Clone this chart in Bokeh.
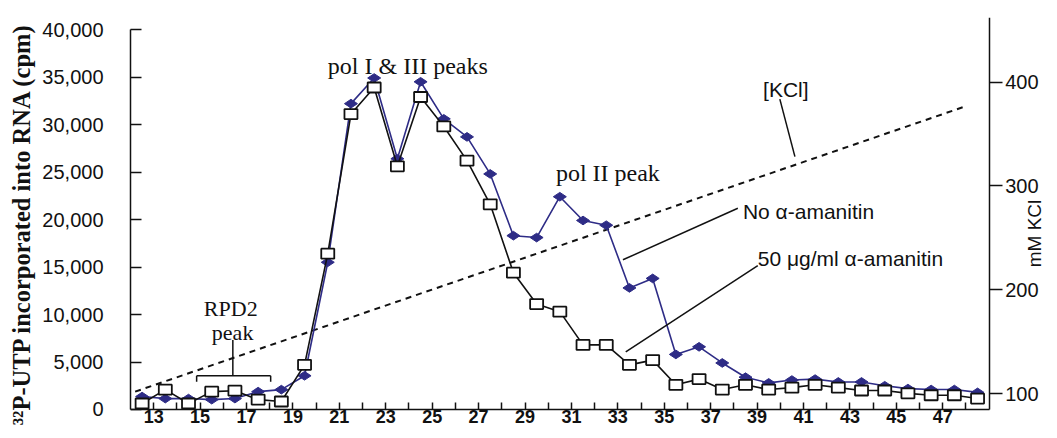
from math import pi
from bokeh.plotting import figure
from bokeh.models import (Range1d, LinearAxis, FixedTicker, NumeralTickFormatter,
                          Label, ColumnDataSource)
from bokeh.embed import file_html
from bokeh.resources import INLINE

# ---- data -------------------------------------------------------------
# fractions (plotted between the numbered tick marks)
fraction_pos = [f + 0.5 for f in range(12, 49)]

# No alpha-amanitin (filled diamonds), cpm
no_amanitin = [1360, 1150, 1150, 1040, 1150, 1880, 2090, 3550, 15500, 32200,
               34900, 26400, 34500, 30600, 28700, 24800, 18300, 18100, 22400, 19900,
               19400, 12800, 13800, 5800, 6600, 4900, 3400, 2800, 3100, 3200,
               2900, 2900, 2500, 2200, 2100, 2100, 1800]

# 50 ug/ml alpha-amanitin (open squares), cpm
with_amanitin = [630, 2090, 630, 1880, 1980, 1040, 840, 4700, 16400, 31100,
                 33900, 25600, 32900, 29800, 26200, 21600, 14400, 11100, 10300, 6800,
                 6800, 4700, 5200, 2600, 3200, 2100, 2600, 2100, 2300, 2600,
                 2300, 2000, 2000, 1700, 1500, 1500, 1150]

# KCl gradient (mM)
kcl_fraction = [12.2, 47.9]
kcl_mm = [102, 376]

x_tick_labels = [13, 15, 17, 19, 21, 23, 25, 27, 29, 31, 33, 35, 37, 39, 41, 43, 45, 47]
x_minor = [14, 16, 18, 20, 22, 24, 26, 28, 30, 32, 34, 36, 38, 40, 42, 44, 46, 48]
cpm_ticks = [0, 5000, 10000, 15000, 20000, 25000, 30000, 35000, 40000]
kcl_ticks = [100, 200, 300, 400]

NAVY = "#2e2c86"
INK = "#111111"
SANS = "Liberation Sans"
SERIF = "Liberation Serif"

p = figure(width=1049, height=430, x_range=Range1d(12, 51.60), y_range=Range1d(-2211, 41269),
           x_axis_type=None, y_axis_type=None, output_backend="svg",
           toolbar_location=None, min_border_left=130, min_border_right=0,
           min_border_top=17, min_border_bottom=0)
p.outline_line_color = None
p.background_fill_color = "white"
p.border_fill_color = "white"
p.extra_y_ranges = {"kcl": Range1d(64.6, 462.1)}

# bottom axis (sits at cpm = 0)
xa = LinearAxis(ticker=FixedTicker(ticks=x_tick_labels, minor_ticks=x_minor),
                fixed_location=0, bounds=(12, 49))
xa.major_tick_in = 7
xa.major_tick_out = 0
xa.minor_tick_in = 7
xa.minor_tick_out = 0
xa.major_label_standoff = 1
xa.major_label_text_font = SANS
xa.major_label_text_font_style = "bold"
xa.major_label_text_font_size = "18px"
xa.major_label_text_color = INK
p.add_layout(xa, "below")

# left axis, cpm
ya = LinearAxis(ticker=FixedTicker(ticks=cpm_ticks), formatter=NumeralTickFormatter(format="0,0"),
                bounds=(0, 40000))
ya.major_tick_in = 11
ya.major_tick_out = 0
ya.minor_tick_in = 0
ya.minor_tick_out = 0
ya.major_label_standoff = 27
ya.major_label_text_font = SANS
ya.major_label_text_font_size = "20px"
ya.major_label_text_color = INK
ya.axis_label = "\u00b3\u00b2P-UTP incorporated into RNA (cpm)"
ya.axis_label_text_font = SERIF
ya.axis_label_text_font_style = "bold"
ya.axis_label_text_font_size = "24.5px"
ya.axis_label_text_color = INK
ya.axis_label_standoff = 4
p.add_layout(ya, "left")

# right axis, mM KCl (sits at the right end of the fractions)
ra = LinearAxis(y_range_name="kcl", ticker=FixedTicker(ticks=kcl_ticks),
                fixed_location=49, bounds=(84.8, 462.1))
ra.major_tick_in = 0
ra.major_tick_out = 13
ra.minor_tick_in = 0
ra.minor_tick_out = 0
ra.major_label_standoff = 3
ra.major_label_text_font = SANS
ra.major_label_text_font_size = "20px"
ra.major_label_text_color = INK
p.add_layout(ra, "right")

for ax in (xa, ya, ra):
    ax.axis_line_width = 1.5
    ax.axis_line_color = INK
    ax.major_tick_line_width = 1.5
    ax.major_tick_line_color = INK
    ax.minor_tick_line_width = 1.5
    ax.minor_tick_line_color = INK

# KCl gradient
p.line(kcl_fraction, kcl_mm, y_range_name="kcl", line_color=INK,
       line_width=2, line_dash="6 5")

src = ColumnDataSource(dict(x=fraction_pos, no=no_amanitin, w=with_amanitin))

p.line("x", "no", source=src, line_color=NAVY, line_width=1.6)
p.scatter("x", "no", source=src, marker="diamond", size=13, angle=pi / 2,
          fill_color=NAVY, line_color=NAVY, line_width=1)

p.line("x", "w", source=src, line_color=INK, line_width=1.6)
p.rect("x", "w", source=src, width=13, height=10, width_units="screen",
       height_units="screen", fill_color="white", line_color=INK, line_width=1.8)

# annotation pointer lines / bracket
p.segment(x0=[39.98, 33.22, 33.34, 16.41, 14.85, 14.85, 18.04],
          y0=[32680, 15760, 6055, 7310, 3550, 3550, 3550],
          x1=[40.63, 38.17, 39.03, 16.41, 18.04, 14.85, 18.04],
          y1=[26620, 21190, 15140, 3550, 3550, 2920, 2920],
          line_color=INK, line_width=1.5)

def add_label(x, y, text, font, size, align="center", baseline="alphabetic", **kw):
    p.add_layout(Label(x=x, y=y, text=text, text_font=font, text_font_size=size,
                       text_align=align, text_baseline=baseline,
                       text_color=INK, **kw))

add_label(23.95, 36120, "pol I & III peaks", SERIF, "24px")
add_label(32.57, 24850, "pol II peak", SERIF, "24px")
add_label(16.32, 10650, "RPD2", SERIF, "22px")
add_label(16.40, 8140, "peak", SERIF, "22px")
add_label(40.24, 33720, "[KCl]", SANS, "21px")
add_label(38.39, 20880, "No \u03b1-amanitin", SANS, "21px", "left")
add_label(39.03, 15870, "50 \u03bcg/ml \u03b1-amanitin", SANS, "21px", "left")
add_label(51.40, 254.2, "mM KCl", SANS, "19px", baseline="bottom",
          angle=pi / 2, y_range_name="kcl")

html = file_html(p, INLINE)
html = html.replace("</head>", "<style>html, body { overflow: hidden; }</style></head>", 1)
open("out.html", "w").write(html)
